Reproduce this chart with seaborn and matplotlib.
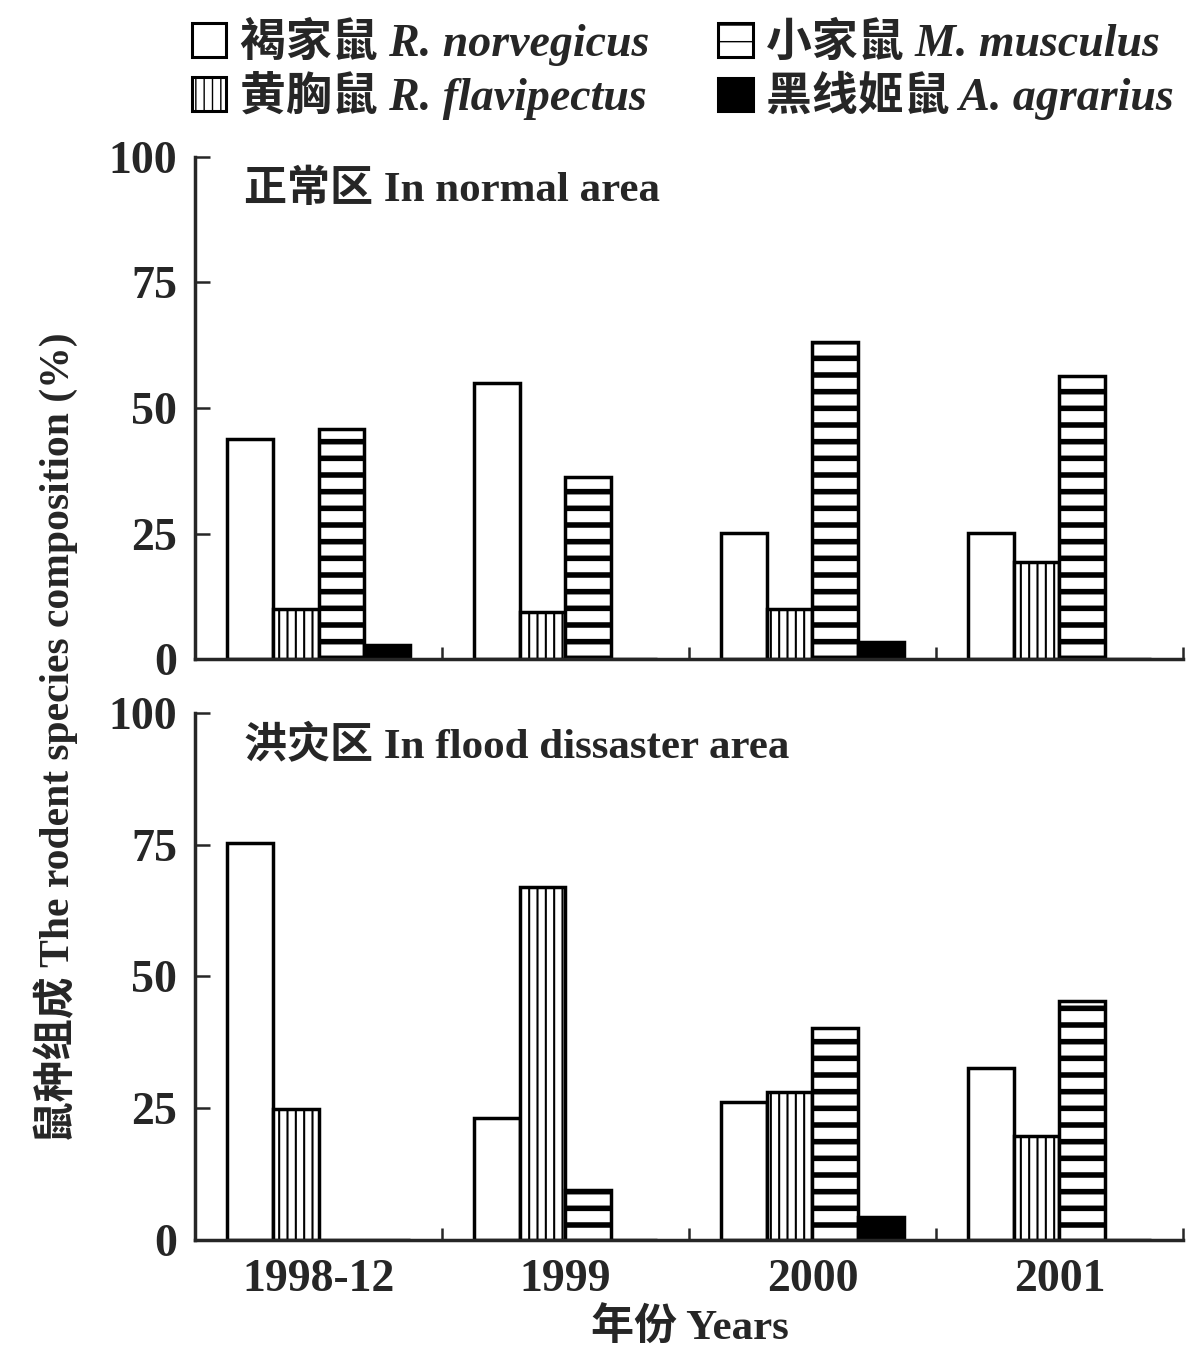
import matplotlib
matplotlib.use("Agg")
import matplotlib.pyplot as plt
import seaborn as sns
import pandas as pd
from matplotlib.patches import Patch

# data
years = ["1998-12", "1999", "2000", "2001"]
species = ["R. norvegicus", "R. flavipectus", "M. musculus", "A. agrarius"]
species_cn = {"R. norvegicus": "褐家鼠", "R. flavipectus": "黄胸鼠",
              "M. musculus": "小家鼠", "A. agrarius": "黑线姬鼠"}
normal_norvegicus = [43.8, 55.0, 25.1, 25.1]
normal_flavipectus = [10.0, 9.3, 10.0, 19.3]
normal_musculus = [45.8, 36.3, 63.1, 56.4]
normal_agrarius = [2.8, 0.0, 3.4, 0.0]
flood_norvegicus = [75.3, 23.2, 26.2, 32.6]
flood_flavipectus = [24.8, 66.9, 28.1, 19.7]
flood_musculus = [0.0, 9.5, 40.2, 45.4]
flood_agrarius = [0.0, 0.0, 4.4, 0.0]
yticks = [0, 25, 50, 75, 100]

hatches = ["", "||", "-", ""]
colors = ["white", "white", "white", "black"]

sns.set_style("ticks")
plt.rcParams["font.family"] = ["Liberation Serif", "Noto Sans CJK SC"]
plt.rcParams["font.weight"] = "bold"
plt.rcParams["hatch.color"] = "black"


def make_df(vals):
    rows = []
    for sp, v in zip(species, vals):
        for y, val in zip(years, v):
            rows.append({"year": y, "species": sp, "value": val})
    return pd.DataFrame(rows)


def set_hatch_lw(patch, lw):
    try:
        patch.set_hatch_linewidth(lw)
    except AttributeError:
        patch._hatch_linewidth = lw


df_normal = make_df([normal_norvegicus, normal_flavipectus, normal_musculus, normal_agrarius])
df_flood = make_df([flood_norvegicus, flood_flavipectus, flood_musculus, flood_agrarius])

fig = plt.figure(figsize=(11.92, 13.58), dpi=100)
ax1 = fig.add_axes([0.1636, 0.5147, 0.8288, 0.3697])
ax2 = fig.add_axes([0.1636, 0.0869, 0.8288, 0.3881])


def draw(ax, df, title, show_x):
    sns.barplot(data=df, x="year", y="value", hue="species", order=years,
                hue_order=species, palette=colors, edgecolor="black",
                linewidth=2.5, width=0.74, ax=ax, legend=False)
    for cont, h in zip(ax.containers, hatches):
        for bar in cont:
            bar.set_hatch(h)
            if h == "-":
                set_hatch_lw(bar, 4.0)
            elif h:
                set_hatch_lw(bar, 1.5)
    ax.set_xlim(-0.5, 3.5)
    ax.set_ylim(0, 100)
    ax.set_yticks(yticks)
    ax.set_yticklabels([str(t) for t in yticks], fontsize=33, fontweight="bold")
    ax.set_xticks([-0.5, 0.5, 1.5, 2.5, 3.5], minor=True)
    ax.tick_params(axis="x", which="minor", direction="in", length=9, width=1.8)
    ax.tick_params(axis="x", which="major", length=0, pad=14)
    ax.tick_params(axis="y", direction="in", length=11, width=1.8, pad=13)
    if show_x:
        ax.set_xticklabels(years, fontsize=33, fontweight="bold")
    else:
        ax.set_xticklabels([])
    ax.set_xlabel("")
    ax.set_ylabel("")
    for s in ["top", "right"]:
        ax.spines[s].set_visible(False)
    for s in ["left", "bottom"]:
        ax.spines[s].set_linewidth(2.5)
    ax.text(0.05, 0.975, title, transform=ax.transAxes, fontsize=31,
            fontweight="bold", va="top", ha="left")


draw(ax1, df_normal, "正常区 In normal area", False)
draw(ax2, df_flood, "洪灾区 In flood dissaster area", True)

fig.text(0.047, 0.457, "鼠种组成 The rodent species composition (%)", rotation=90,
         fontsize=30, fontweight="bold", ha="center", va="center")
fig.text(0.579, 0.022, "年份 Years", fontsize=31, fontweight="bold",
         ha="center", va="center")

handles = []
for c, h in zip(colors, hatches):
    p = Patch(facecolor=c, edgecolor="black", hatch=h, linewidth=2.2)
    if h == "-":
        set_hatch_lw(p, 3.0)
    handles.append(p)
labels = [f"{species_cn[s]} {s}" for s in species]
fig.legend(handles, labels, ncol=2, loc="upper left",
           bbox_to_anchor=(0.138, 1.008), frameon=False,
           prop={"size": 33, "style": "italic", "weight": "bold"},
           handlelength=0.75, handleheight=0.75, handletextpad=0.3,
           columnspacing=1.5, labelspacing=0.12, borderaxespad=0.2)

fig.savefig("out.png", dpi=100)
